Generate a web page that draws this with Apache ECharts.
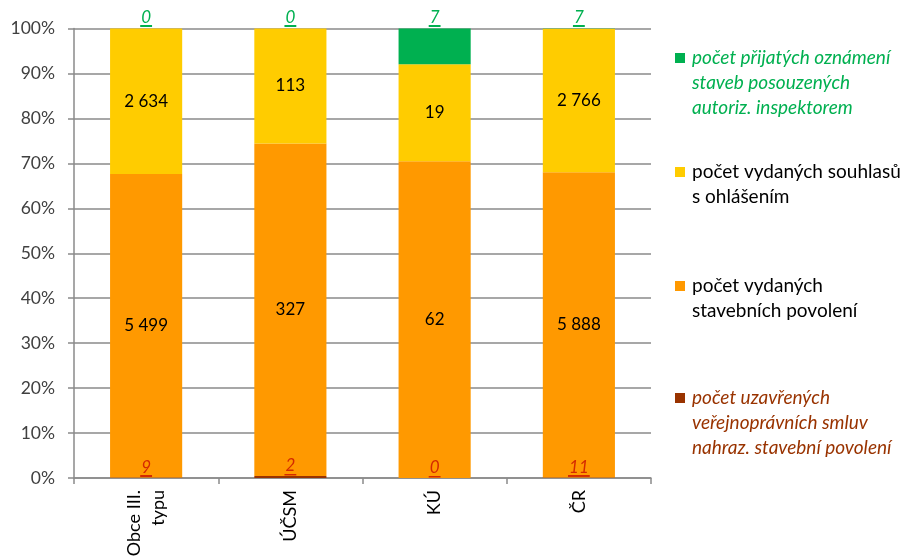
<!DOCTYPE html>
<html>
<head>
<meta charset="utf-8">
<script src="https://cdn.jsdelivr.net/npm/echarts@6/dist/echarts.min.js"></script>
<style>
  html, body { margin: 0; padding: 0; background: #fff; }
  #chart { width: 906px; height: 557px; }
</style>
</head>
<body>
<div id="chart"></div>
<script>
// Categories (bottom axis)
const categories = ['Obce III.\ntypu', 'ÚČSM', 'KÚ', 'ČR'];

// Counts per category, stacked bottom to top
const smlouvy  = [9, 2, 0, 11];          // veřejnoprávní smlouvy
const povoleni = [5499, 327, 62, 5888];  // stavební povolení
const souhlasy = [2634, 113, 19, 2766];  // souhlasy s ohlášením
const oznameni = [0, 0, 7, 7];           // oznámení – autoriz. inspektor

// Series names as shown in the legend
const seriesNames = [
  'počet uzavřených\nveřejnoprávních smluv\nnahraz. stavební povolení',
  'počet vydaných\nstavebních povolení',
  'počet vydaných souhlasů\ns ohlášením',
  'počet přijatých oznámení\nstaveb posouzených\nautoriz. inspektorem'
];

const yTicks = [0, 10, 20, 30, 40, 50, 60, 70, 80, 90, 100];

const FONT = 'Lato';
const GREEN = '#00b050';
const YELLOW = '#ffcc00';
const ORANGE = '#ff9900';
const BROWN = '#993300';
const RED_LABEL = '#d42a00';

const totals = categories.map((_, i) => smlouvy[i] + povoleni[i] + souhlasy[i] + oznameni[i]);
const share = arr => arr.map((v, i) => v / totals[i] * 100);
const fmt = v => String(v).replace(/\B(?=(\d{3})+(?!\d))/g, ' ');

// underline drawn as a thin gradient strip at the bottom of the label box
const underline = color => ({
  type: 'linear', x: 0, y: 0, x2: 0, y2: 1,
  colorStops: [
    { offset: 0, color: 'rgba(255,255,255,0)' },
    { offset: 0.9, color: 'rgba(255,255,255,0)' },
    { offset: 0.9, color: color },
    { offset: 1, color: color }
  ]
});

function makeSeries(name, raw, color, label) {
  return {
    name: name,
    type: 'bar',
    stack: 'total',
    barWidth: '50%',
    data: share(raw),
    itemStyle: { color: color },
    label: Object.assign({
      show: true,
      fontFamily: FONT,
      formatter: p => fmt(raw[p.dataIndex])
    }, label),
    emphasis: { disabled: true }
  };
}

const series = [
  makeSeries(seriesNames[0], smlouvy, BROWN, {
    position: 'top', distance: 0,
    formatter: p => '{u|' + fmt(smlouvy[p.dataIndex]) + '}',
    rich: { u: { fontFamily: FONT, fontSize: 17, fontStyle: 'italic', color: RED_LABEL,
                 backgroundColor: underline(RED_LABEL), padding: [0, 1, 1, 1], lineHeight: 19 } }
  }),
  makeSeries(seriesNames[1], povoleni, ORANGE, {
    position: 'inside', color: '#000', fontSize: 17
  }),
  makeSeries(seriesNames[2], souhlasy, YELLOW, {
    position: 'inside', color: '#000', fontSize: 17
  }),
  makeSeries(seriesNames[3], oznameni, GREEN, {
    position: 'top', distance: 1,
    formatter: p => '{u|' + fmt(oznameni[p.dataIndex]) + '}',
    rich: { u: { fontFamily: FONT, fontSize: 17, fontStyle: 'italic', color: GREEN,
                 backgroundColor: underline(GREEN), padding: [0, 1, 1, 1], lineHeight: 19 } }
  })
];

// One legend block per series; the square marker sits beside the first text line.
// The marker path is stretched with an empty tail so the text block (centred on
// the icon box) starts at the marker's row.
const LINE_H = 25;
const MARK = 10;
function legendBlock(name, firstLineY, textStyle) {
  const n = name.split('\n').length;
  const boxH = MARK + (n - 1) * LINE_H;
  const icon = 'path://M0,0L' + MARK + ',0L' + MARK + ',' + MARK + 'L0,' + MARK +
               'ZM0,' + boxH + 'L0,' + boxH + 'Z';
  return {
    data: [{ name: name, textStyle: textStyle }],
    left: 675,
    top: firstLineY - MARK / 2 - (n * LINE_H / 2 - boxH / 2),
    padding: 0,
    orient: 'vertical',
    icon: icon,
    itemWidth: MARK,
    itemHeight: boxH,
    selectedMode: false,
    textStyle: Object.assign({
      fontFamily: FONT, fontSize: 19, lineHeight: LINE_H,
      padding: [0, 0, 0, 2]
    }, textStyle)
  };
}

const option = {
  animation: false,
  backgroundColor: '#fff',
  grid: { left: 74, right: 255, top: 28.5, bottom: 79, containLabel: false, outerBoundsMode: 'none' },
  legend: [
    legendBlock(seriesNames[3], 58, { color: GREEN, fontStyle: 'italic' }),
    legendBlock(seriesNames[2], 172, { color: '#000', fontStyle: 'normal' }),
    legendBlock(seriesNames[1], 286, { color: '#000', fontStyle: 'normal' }),
    legendBlock(seriesNames[0], 398, { color: BROWN, fontStyle: 'italic' })
  ],
  xAxis: {
    type: 'category',
    data: categories,
    axisLine: { lineStyle: { color: '#8a8a8a', width: 1.5 } },
    axisTick: { show: true, length: 6, lineStyle: { color: '#8a8a8a', width: 1.5 } },
    axisLabel: {
      rotate: 90, margin: 12, fontFamily: FONT, fontSize: 18, color: '#000', lineHeight: 24,
      interval: 0
    }
  },
  yAxis: {
    type: 'value',
    min: yTicks[0], max: yTicks[yTicks.length - 1], interval: yTicks[1] - yTicks[0],
    axisLine: { show: true, lineStyle: { color: '#8a8a8a', width: 1.5 } },
    axisTick: { show: true, length: 6, lineStyle: { color: '#8a8a8a', width: 1.5 } },
    splitLine: { show: true, lineStyle: { color: '#8a8a8a', width: 1.5 } },
    axisLabel: { formatter: '{value}%', fontFamily: FONT, fontSize: 17.5, color: '#404040', margin: 19 }
  },
  series: series
};

echarts.init(document.getElementById('chart'), null, { renderer: 'canvas' }).setOption(option);
</script>
</body>
</html>
